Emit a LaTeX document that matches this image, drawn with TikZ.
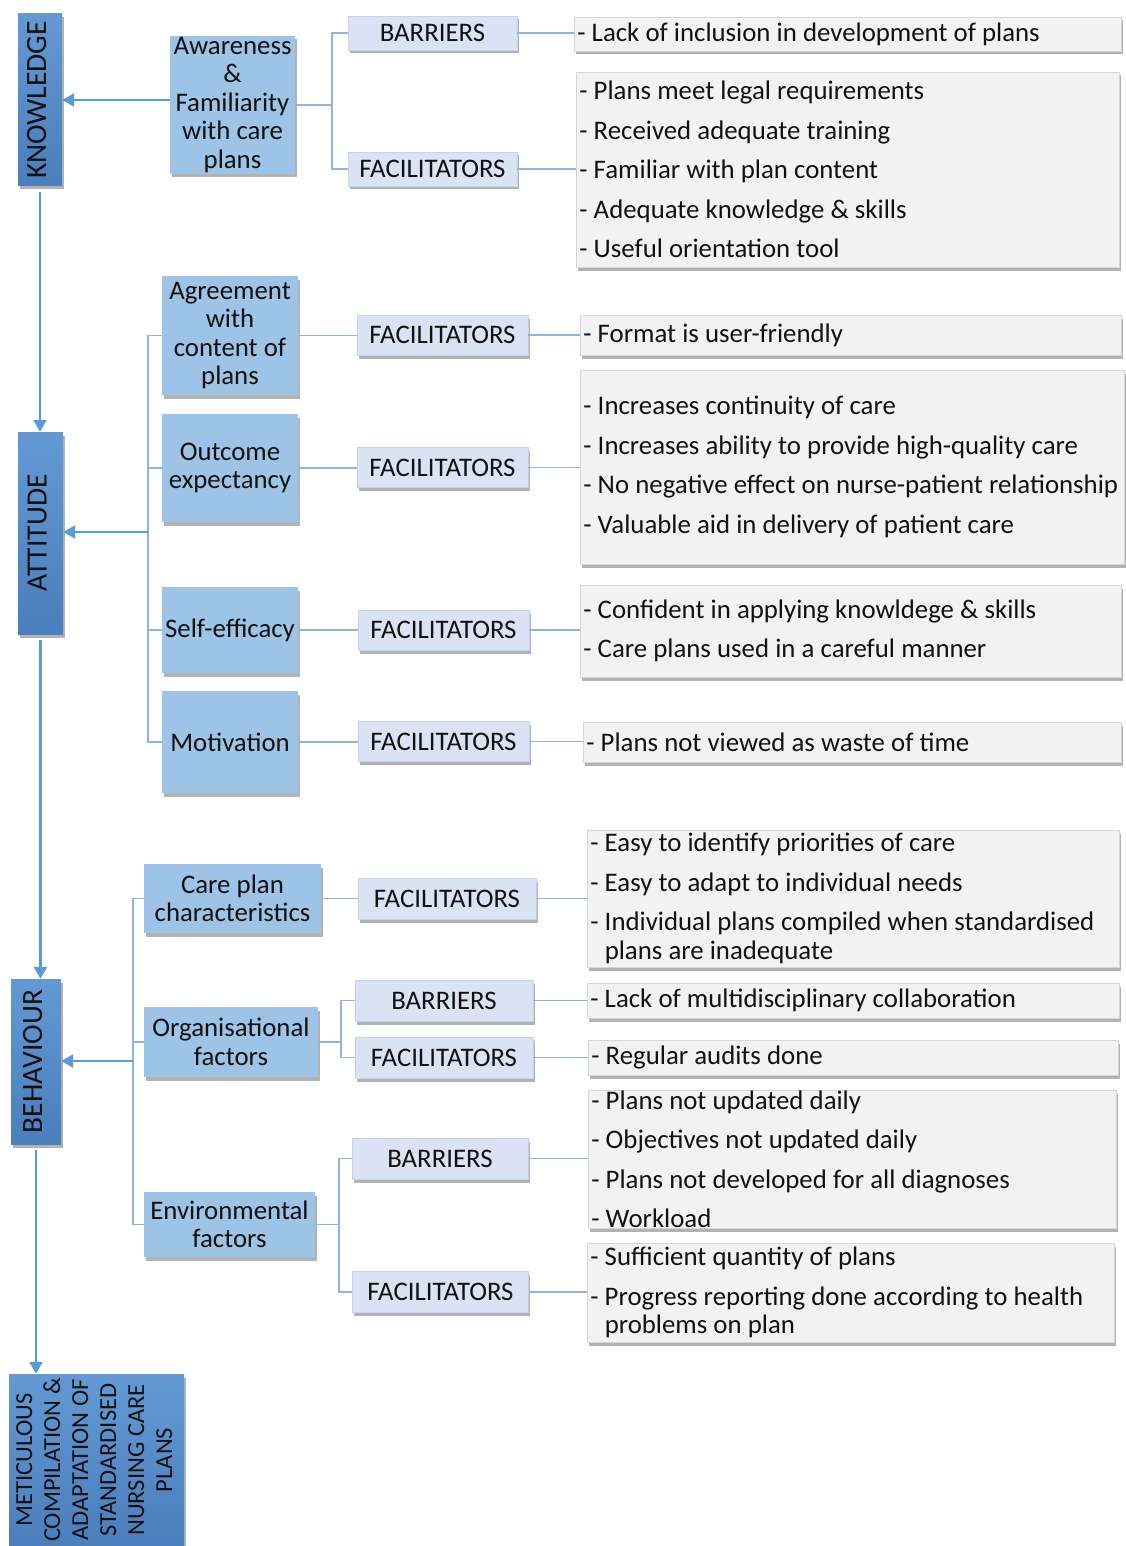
\documentclass[tikz,border=0pt]{standalone}
\usepackage{fontspec}
\setmainfont{Carlito}
\usepackage{xcolor,graphicx}
\usetikzlibrary{calc,positioning,shadows,arrows.meta}
\definecolor{color_stage_top}{HTML}{6399D3}
\definecolor{color_stage_bottom}{HTML}{4A7EBC}
\definecolor{color_cat}{HTML}{9DC3E6}
\definecolor{color_fact}{HTML}{DAE3F3}
\definecolor{color_fact_border}{HTML}{C3D3EA}
\definecolor{color_item}{HTML}{F2F2F2}
\definecolor{color_item_border}{HTML}{D6D6D6}
\definecolor{color_link}{HTML}{8DB4E2}
\definecolor{color_flow}{HTML}{5B9BD5}
\definecolor{color_text}{HTML}{111111}
\hyphenpenalty=10000
\exhyphenpenalty=10000
\newcommand{\stagetext}[1]{\rotatebox{90}{\begin{tabular}{@{}c@{}}#1\end{tabular}}}

\begin{document}
\begin{tikzpicture}[x=1pt,y=-1pt,
	every node/.style={text=color_text,font=\fontsize{26.8}{28.5}\selectfont,inner sep=0pt,
		execute at begin node={\spaceskip=0.23em\relax}},
	boxshadow/.style={drop shadow={shadow xshift=1.5pt,shadow yshift=-3.5pt,fill=black,opacity=0.3}},
	stage/.style={top color=color_stage_top,bottom color=color_stage_bottom,boxshadow,
		font=\fontsize{29.5}{31}\selectfont},
	cat/.style={fill=color_cat,align=center,boxshadow},
	fact/.style={fill=color_fact,draw=color_fact_border,line width=0.8pt,boxshadow},
	item/.style={fill=color_item,draw=color_item_border,line width=0.8pt,anchor=west,
		align=left,inner xsep=3pt,boxshadow},
	link/.style={color_link,line width=1.4pt},
	flow/.style={color_flow,line width=2.6pt,-{Triangle[length=12pt,width=13pt]}}]
				\useasboundingbox (0,0) rectangle (1126,1546);
				% Stages
				\node[stage,minimum width=44,minimum height=172] (know) at (40,100) {\stagetext{KNOWLEDGE}};
				\node[stage,minimum width=45,minimum height=202] (att) at (40.5,533) {\stagetext{ATTITUDE}};
				\node[stage,minimum width=50,minimum height=165] (beh) at (36,1061.5) {\stagetext{BEHAVIOUR}};
				\node[stage,minimum width=175,minimum height=172,font=\fontsize{24.5}{28}\selectfont] (meti) at (96.5,1460)
					{\stagetext{METICULOUS\\COMPILATION \&\\ADAPTATION OF\\STANDARDISED\\NURSING CARE\\PLANS}};
		
				% Categories
				\node[cat,minimum width=125,minimum height=138] (aware) at (232.5,105) {Awareness\\\&\\Familiarity\\with care\\plans};
				\node[cat,minimum width=136,minimum height=119] (agree) at (230,335.5) {Agreement\\with\\content of\\plans};
				\node[cat,minimum width=136,minimum height=108] (outc) at (230,468) {Outcome\\expectancy};
				\node[cat,minimum width=136,minimum height=86] (selfe) at (230,630) {Self-efficacy};
				\node[cat,minimum width=136,minimum height=102] (motiv) at (230,742) {Motivation};
				\node[cat,minimum width=177,minimum height=69] (care) at (232.5,898.5) {Care plan\\characteristics};
				\node[cat,minimum width=174,minimum height=70] (org) at (231,1042) {Organisational\\factors};
				\node[cat,minimum width=171,minimum height=65] (env) at (229.5,1224.5) {Environmental\\factors};
				
				% Barriers and facilitators
				\node[fact,minimum width=169,minimum height=34] (barK) at (432.5,33) {BARRIERS};
				\node[fact,minimum width=169,minimum height=34] (facK) at (432.5,169) {FACILITATORS};
				\node[fact,minimum width=171,minimum height=40] (facA) at (442.5,335) {FACILITATORS};
				\node[fact,minimum width=171,minimum height=40] (facU) at (442.5,467.5) {FACILITATORS};
				\node[fact,minimum width=171,minimum height=40] (facS) at (443.5,630) {FACILITATORS};
				\node[fact,minimum width=171,minimum height=40] (facM) at (443.5,741.5) {FACILITATORS};
				\node[fact,minimum width=178,minimum height=41] (facC) at (447,898.5) {FACILITATORS};
				\node[fact,minimum width=178,minimum height=41] (barO) at (444,1000.5) {BARRIERS};
				\node[fact,minimum width=178,minimum height=41] (facO) at (444,1057.5) {FACILITATORS};
				\node[fact,minimum width=176,minimum height=41] (barE) at (440,1158.5) {BARRIERS};
				\node[fact,minimum width=176,minimum height=41] (facE) at (440.5,1292) {FACILITATORS};
				
				% Findings
				\node[item,text width=541,minimum height=34] (g1) at (574,34) {- Lack of inclusion in development of plans};
				\node[item,text width=537,minimum height=195] (g2) at (576,169.5) {- Plans meet legal requirements\\[11pt]
					- Received adequate training\\[11pt]- Familiar with plan content\\[11pt]
					- Adequate knowledge \& skills\\[11pt]- Useful orientation tool};
				\node[item,text width=535,minimum height=40] (g3) at (580,335) {- Format is user-friendly};
				\node[item,text width=538,minimum height=194] (g4) at (580,467) {- Increases continuity of care\\[11pt]
					- Increases ability to provide high-quality care\\[11pt]
					- No negative effect on nurse-patient relationship\\[11pt]
					- Valuable aid in delivery of patient care};
				\node[item,text width=535,minimum height=92] (g5) at (580,631) {- Confident in applying knowldege \& skills\\[11pt]
					- Care plans used in a careful manner};
				\node[item,text width=532,minimum height=40] (g6) at (583,742) {- Plans not viewed as waste of time};
				\node[item,text width=526,minimum height=137] (g7) at (587,898.5) {- Easy to identify priorities of care\\[11pt]
					- Easy to adapt to individual needs\\[11pt]
					- Individual plans compiled when standardised\\\phantom{-~}plans are inadequate};
				\node[item,text width=526,minimum height=35] (g8) at (587,1000.5) {- Lack of multidisciplinary collaboration};
				\node[item,text width=524,minimum height=35] (g9) at (588,1057.5) {- Regular audits done};
				\node[item,text width=522,minimum height=135] (g10) at (588,1159.5) {- Plans not updated daily\\[11pt]
					- Objectives not updated daily\\[11pt]- Plans not developed for all diagnoses\\[11pt]- Workload};
				\node[item,text width=521,minimum height=99] (g11) at (587,1292.5) {- Sufficient quantity of plans\\[11pt]
					- Progress reporting done according to health\\\phantom{-~}problems on plan};
				
				% Buses
				\coordinate (kbus) at (332,105);
				\coordinate (abus) at (148,532);
				\coordinate (bbus) at (133,1061);
				\coordinate (obus) at (341,1042);
				\coordinate (ebus) at (339,1224.5);
				
				% Knowledge links
				\draw[link] (aware.east) -- (kbus);
				\draw[link] (barK.west) -| (kbus);
				\draw[link] (facK.west) -| (kbus);
				\draw[link] (barK.east) -- (barK.east -| g1.west);
				\draw[link] (facK.east) -- (facK.east -| g2.west);
				\draw[flow] ([yshift=5pt]aware.west) -- ([yshift=5pt]aware.west -| know.east);
				
				% Attitude links
				\draw[link] (agree.west) -| (abus);
				\draw[link] (outc.west) -| (abus);
				\draw[link] (selfe.west) -| (abus);
				\draw[link] (motiv.west) -| (abus);
				\draw[link] (agree.east) -- (agree.east -| facA.west);
				\draw[link] (outc.east) -- (outc.east -| facU.west);
				\draw[link] (selfe.east) -- (selfe.east -| facS.west);
				\draw[link] (motiv.east) -- (motiv.east -| facM.west);
				\draw[link] (facA.east) -- (facA.east -| g3.west);
				\draw[link] (facU.east) -- (facU.east -| g4.west);
				\draw[link] (facS.east) -- (facS.east -| g5.west);
				\draw[link] (facM.east) -- (facM.east -| g6.west);
				\draw[flow] (abus) -- (abus -| att.east);
				
				% Behaviour links
				\draw[link] (care.west) -| (bbus);
				\draw[link] (org.west) -| (bbus);
				\draw[link] (env.west) -| (bbus);
				\draw[link] (care.east) -- (care.east -| facC.west);
				\draw[link] (org.east) -- (obus);
				\draw[link] (barO.west) -| (obus);
				\draw[link] (facO.west) -| (obus);
				\draw[link] (env.east) -- (ebus);
				\draw[link] (barE.west) -| (ebus);
				\draw[link] (facE.west) -| (ebus);
				\draw[link] (facC.east) -- (facC.east -| g7.west);
				\draw[link] (barO.east) -- (barO.east -| g8.west);
				\draw[link] (facO.east) -- (facO.east -| g9.west);
				\draw[link] (barE.east) -- (barE.east -| g10.west);
				\draw[link] (facE.east) -- (facE.east -| g11.west);
				\draw[flow] (bbus) -- (bbus -| beh.east);
				
				% Stage flow
				\draw[flow,shorten <=6pt] (know.south) -- (know.south |- att.north);
				\draw[flow,shorten <=6pt] (att.south) -- (att.south |- beh.north);
				\draw[flow,shorten <=6pt] (beh.south) -- (beh.south |- meti.north);
			\end{tikzpicture}
\end{document}
